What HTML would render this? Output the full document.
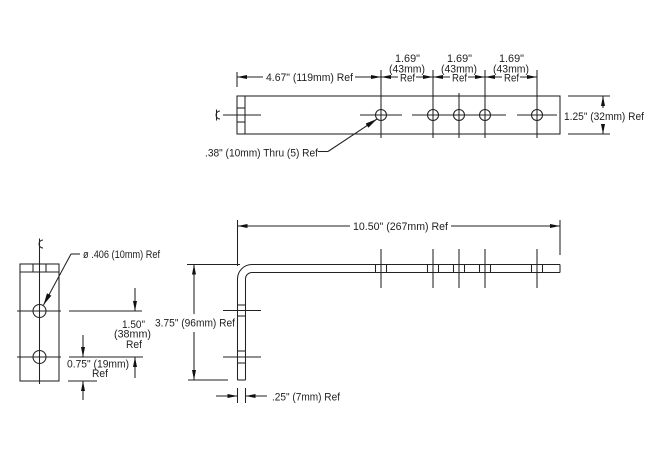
<!DOCTYPE html>
<html><head><meta charset="utf-8"><style>
html,body{margin:0;padding:0;background:#fff;}
svg{display:block;}
text{font-family:"Liberation Sans",Arial,sans-serif;font-size:11px;fill:#1e1e1e;}
</style></head><body>
<svg width="650" height="468" viewBox="0 0 650 468" xmlns="http://www.w3.org/2000/svg">
<defs>
<marker id="a" viewBox="0 0 10 4" refX="10" refY="2" markerWidth="10" markerHeight="4" markerUnits="userSpaceOnUse" orient="auto"><path d="M0,0L10,2L0,4z" fill="#111"/></marker>
<marker id="b" viewBox="0 0 12 5" refX="12" refY="2.5" markerWidth="12" markerHeight="5" markerUnits="userSpaceOnUse" orient="auto"><path d="M0,0L12,2.5L0,5z" fill="#111"/></marker>
</defs>
<g stroke="#222" stroke-width="1.05" fill="none">
<!-- TOP VIEW -->
<rect x="237" y="96" width="323" height="38"/>
<line x1="245" y1="96" x2="245" y2="134"/>
<line x1="237" y1="108" x2="245" y2="108"/>
<line x1="237" y1="122" x2="245" y2="122"/>
<circle cx="381" cy="115" r="5.5"/>
<circle cx="433" cy="115" r="5.5"/>
<circle cx="459" cy="115" r="5.5"/>
<circle cx="485" cy="115" r="5.5"/>
<circle cx="537" cy="115" r="5.5"/>
<line x1="237" y1="72" x2="237" y2="87"/>
<line x1="381" y1="70" x2="381" y2="138"/>
<line x1="433" y1="70" x2="433" y2="138"/>
<line x1="459" y1="93" x2="459" y2="138"/>
<line x1="485" y1="70" x2="485" y2="138"/>
<line x1="537" y1="70" x2="537" y2="138"/>
<line x1="223" y1="115" x2="261" y2="115"/>
<line x1="360" y1="115" x2="402" y2="115"/>
<line x1="412" y1="115" x2="506" y2="115"/>
<line x1="517" y1="115" x2="557" y2="115"/>
<!-- CL symbol top -->
<path d="M220,111 A4,4 0 1 0 220,119"/>
<line x1="216.5" y1="109.5" x2="216.5" y2="120.5"/>
<!-- top dims -->
<line x1="263" y1="77" x2="237" y2="77" marker-end="url(#a)"/>
<line x1="355" y1="77" x2="381" y2="77" marker-end="url(#a)"/>
<line x1="398" y1="77" x2="381" y2="77" marker-end="url(#a)"/>
<line x1="416" y1="77" x2="433" y2="77" marker-end="url(#a)"/>
<line x1="450" y1="77" x2="433" y2="77" marker-end="url(#a)"/>
<line x1="468" y1="77" x2="485" y2="77" marker-end="url(#a)"/>
<line x1="502" y1="77" x2="485" y2="77" marker-end="url(#a)"/>
<line x1="520" y1="77" x2="537" y2="77" marker-end="url(#a)"/>
<!-- right 1.25 dim -->
<line x1="568" y1="96" x2="610" y2="96"/>
<line x1="568" y1="134" x2="610" y2="134"/>
<line x1="603" y1="108" x2="603" y2="96" marker-end="url(#a)"/>
<line x1="603" y1="124" x2="603" y2="134" marker-end="url(#a)"/>
<!-- top leader -->
<polyline points="318,151.5 328,151.5"/>
<line x1="328" y1="151.5" x2="377" y2="119" marker-end="url(#b)"/>

<!-- SIDE VIEW -->
<path d="M237.5,380 L237.5,279 A14.5,14.5 0 0 1 252,264.5 L560,264.5"/>
<path d="M245.5,380 L245.5,279 A6.5,6.5 0 0 1 252,272.5 L560,272.5"/>
<line x1="237.5" y1="380" x2="245.5" y2="380"/>
<line x1="560" y1="264.5" x2="560" y2="272.5"/>
<!-- hole marks horizontal leg -->
<line x1="375.5" y1="264.5" x2="375.5" y2="272.5"/><line x1="386.5" y1="264.5" x2="386.5" y2="272.5"/><line x1="381" y1="249" x2="381" y2="288"/>
<line x1="427.5" y1="264.5" x2="427.5" y2="272.5"/><line x1="438.5" y1="264.5" x2="438.5" y2="272.5"/><line x1="433" y1="249" x2="433" y2="288"/>
<line x1="453.5" y1="264.5" x2="453.5" y2="272.5"/><line x1="464.5" y1="264.5" x2="464.5" y2="272.5"/><line x1="459" y1="249" x2="459" y2="288"/>
<line x1="479.5" y1="264.5" x2="479.5" y2="272.5"/><line x1="490.5" y1="264.5" x2="490.5" y2="272.5"/><line x1="485" y1="249" x2="485" y2="288"/>
<line x1="531.5" y1="264.5" x2="531.5" y2="272.5"/><line x1="542.5" y1="264.5" x2="542.5" y2="272.5"/><line x1="537" y1="249" x2="537" y2="288"/>
<!-- hole marks vertical leg -->
<line x1="237.5" y1="305" x2="245.5" y2="305"/><line x1="237.5" y1="316" x2="245.5" y2="316"/><line x1="223" y1="310.5" x2="261" y2="310.5"/>
<line x1="237.5" y1="351" x2="245.5" y2="351"/><line x1="237.5" y1="363" x2="245.5" y2="363"/><line x1="223" y1="357" x2="261" y2="357"/>
<!-- 10.50 dim -->
<line x1="237.5" y1="220" x2="237.5" y2="266"/>
<line x1="560" y1="220" x2="560" y2="255"/>
<line x1="350" y1="226" x2="237.5" y2="226" marker-end="url(#a)"/>
<line x1="451" y1="226" x2="560" y2="226" marker-end="url(#a)"/>
<!-- 3.75 dim -->
<line x1="187" y1="264.5" x2="240" y2="264.5"/>
<line x1="188" y1="380" x2="228" y2="380"/>
<line x1="194" y1="314" x2="194" y2="264.5" marker-end="url(#a)"/>
<line x1="194" y1="332" x2="194" y2="380" marker-end="url(#a)"/>
<!-- .25 dim -->
<line x1="237.5" y1="388" x2="237.5" y2="403"/>
<line x1="245.5" y1="388" x2="245.5" y2="403"/>
<line x1="216" y1="396" x2="237.5" y2="396" marker-end="url(#a)"/>
<line x1="267" y1="396" x2="245.5" y2="396" marker-end="url(#a)"/>

<!-- LEFT END VIEW -->
<rect x="20" y="264" width="39" height="117"/>
<line x1="20" y1="272" x2="59" y2="272"/>
<line x1="33" y1="264" x2="33" y2="272"/>
<line x1="46" y1="264" x2="46" y2="272"/>
<line x1="39.5" y1="249" x2="39.5" y2="384"/>
<circle cx="39.5" cy="311" r="6.5"/>
<circle cx="39.5" cy="357" r="6.5"/>
<line x1="17" y1="311" x2="61" y2="311"/>
<line x1="17" y1="357" x2="61" y2="357"/>
<!-- CL symbol left -->
<path d="M43,240 A4,4 0 1 0 43,248"/>
<line x1="39.5" y1="238.5" x2="39.5" y2="249"/>
<!-- dim ext lines -->
<line x1="69" y1="311" x2="142" y2="311"/>
<line x1="69" y1="357" x2="143" y2="357"/>
<line x1="68" y1="381" x2="97" y2="381"/>
<line x1="135" y1="288" x2="135" y2="311" marker-end="url(#a)"/>
<line x1="135" y1="378" x2="135" y2="357" marker-end="url(#a)"/>
<line x1="83" y1="335" x2="83" y2="357" marker-end="url(#a)"/>
<line x1="83" y1="400" x2="83" y2="381" marker-end="url(#a)"/>
<!-- left leader -->
<polyline points="80,254 71,254"/>
<line x1="71" y1="254" x2="43.5" y2="305" marker-end="url(#b)"/>
</g>

<!-- TEXT -->
<text x="266" y="81" textLength="87" lengthAdjust="spacingAndGlyphs">4.67" (119mm) Ref</text>
<text x="395" y="62" textLength="25" lengthAdjust="spacingAndGlyphs">1.69"</text>
<text x="389" y="72.5" textLength="36" lengthAdjust="spacingAndGlyphs">(43mm)</text>
<text x="400" y="81.5" textLength="15" lengthAdjust="spacingAndGlyphs">Ref</text>
<text x="447" y="62" textLength="25" lengthAdjust="spacingAndGlyphs">1.69"</text>
<text x="441" y="72.5" textLength="36" lengthAdjust="spacingAndGlyphs">(43mm)</text>
<text x="452" y="81.5" textLength="15" lengthAdjust="spacingAndGlyphs">Ref</text>
<text x="499" y="62" textLength="25" lengthAdjust="spacingAndGlyphs">1.69"</text>
<text x="493" y="72.5" textLength="36" lengthAdjust="spacingAndGlyphs">(43mm)</text>
<text x="504" y="81.5" textLength="15" lengthAdjust="spacingAndGlyphs">Ref</text>
<text x="564" y="120" textLength="80" lengthAdjust="spacingAndGlyphs">1.25" (32mm) Ref</text>
<text x="205" y="156.5" textLength="113" lengthAdjust="spacingAndGlyphs">.38" (10mm) Thru (5) Ref</text>
<text x="353" y="230" textLength="95" lengthAdjust="spacingAndGlyphs">10.50" (267mm) Ref</text>
<text x="155" y="326.5" textLength="80" lengthAdjust="spacingAndGlyphs">3.75" (96mm) Ref</text>
<text x="272" y="400.5" textLength="68" lengthAdjust="spacingAndGlyphs">.25" (7mm) Ref</text>
<text x="83" y="258" textLength="77" lengthAdjust="spacingAndGlyphs">ø .406 (10mm) Ref</text>
<text x="122" y="328" textLength="23" lengthAdjust="spacingAndGlyphs">1.50"</text>
<text x="114" y="337.5" textLength="37" lengthAdjust="spacingAndGlyphs">(38mm)</text>
<text x="126" y="348" textLength="16" lengthAdjust="spacingAndGlyphs">Ref</text>
<text x="67" y="367.5" textLength="62" lengthAdjust="spacingAndGlyphs">0.75" (19mm)</text>
<text x="92" y="377" textLength="16" lengthAdjust="spacingAndGlyphs">Ref</text>
</svg>
</body></html>
